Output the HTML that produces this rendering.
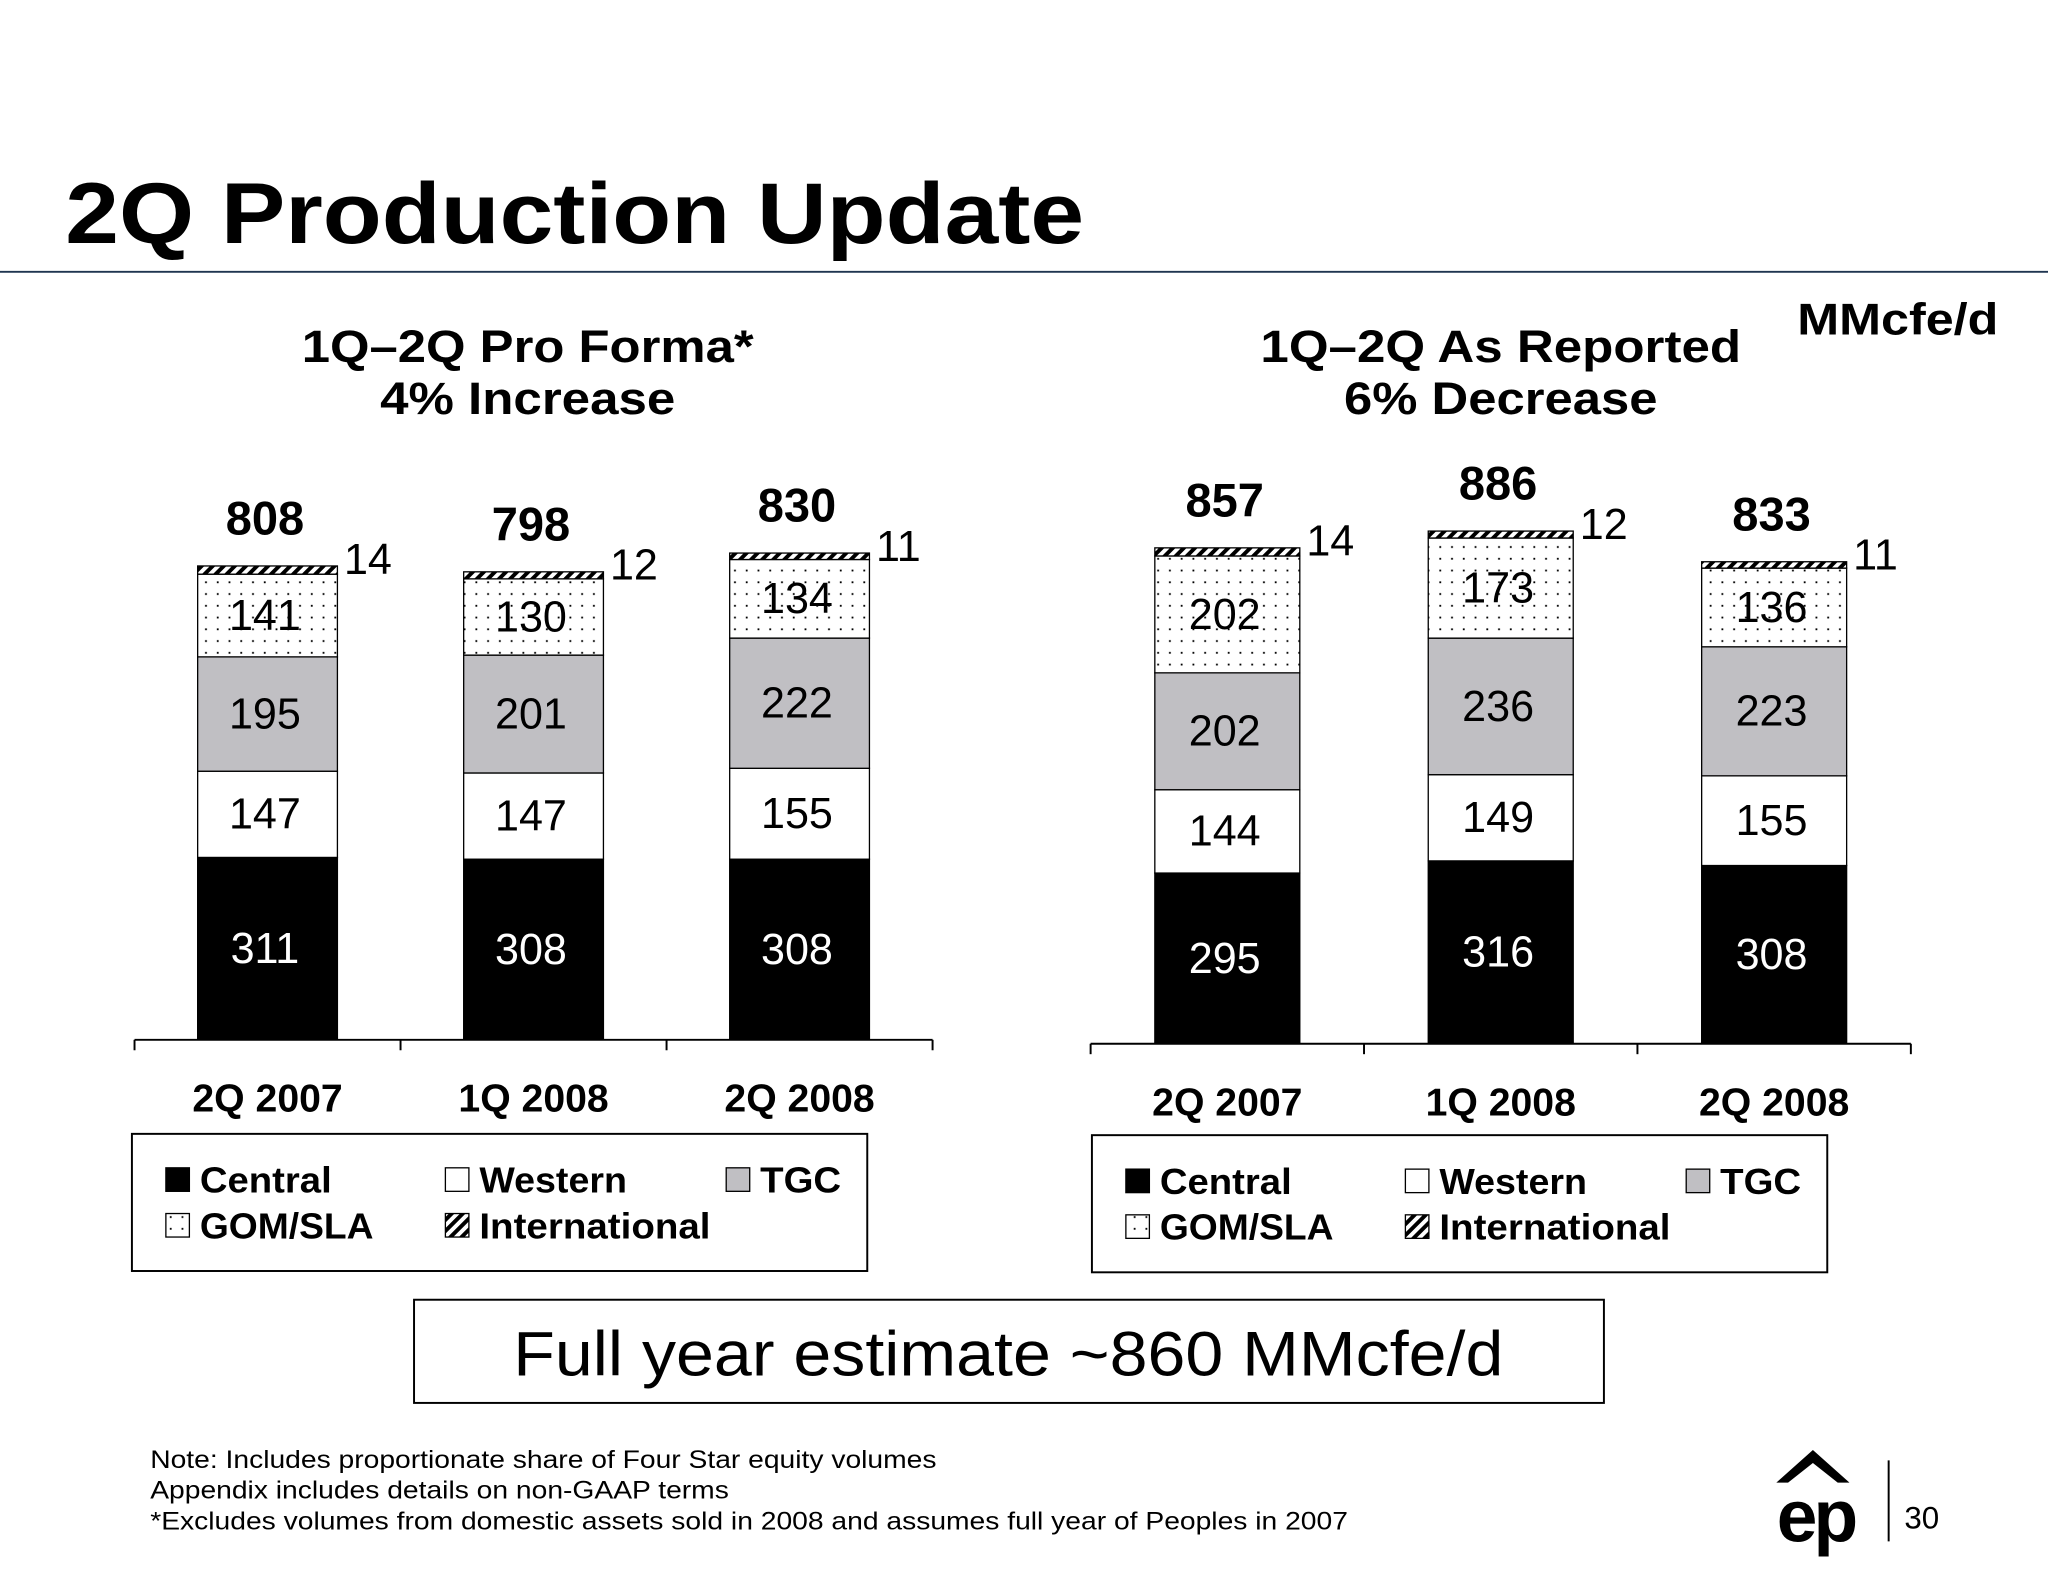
<!DOCTYPE html>
<html><head><meta charset="utf-8"><style>
html,body{margin:0;padding:0;background:#fff}
svg{display:block;font-family:"Liberation Sans",Arial,sans-serif}
</style></head><body>
<svg id="s" width="2048" height="1582" viewBox="0 0 1568 1211" xmlns="http://www.w3.org/2000/svg">
<defs>
<pattern id="dots" width="9" height="9" patternUnits="userSpaceOnUse"><rect width="9" height="9" fill="#fff"/><rect x="4" y="4" width="1.4" height="1.4" fill="#000"/></pattern>
<pattern id="hatch" width="6" height="6" patternUnits="userSpaceOnUse" patternTransform="rotate(45)"><rect width="6" height="6" fill="#fff"/><rect width="3" height="6" fill="#000"/></pattern>
</defs>
<text x="50" y="186" font-size="66" font-weight="bold" textLength="780" lengthAdjust="spacingAndGlyphs">2Q Production Update</text>
<line x1="0" y1="208" x2="1568" y2="208" stroke="#1f3550" stroke-width="1.5"/>
<text x="1376" y="256" font-size="34" font-weight="bold" textLength="154" lengthAdjust="spacingAndGlyphs">MMcfe/d</text>
<text x="231" y="277" font-size="35" font-weight="bold" textLength="346" lengthAdjust="spacingAndGlyphs">1Q–2Q Pro Forma*</text>
<text x="291" y="317" font-size="35" font-weight="bold" textLength="226" lengthAdjust="spacingAndGlyphs">4% Increase</text>
<text x="965" y="277" font-size="35" font-weight="bold" textLength="368" lengthAdjust="spacingAndGlyphs">1Q–2Q As Reported</text>
<text x="1029" y="317" font-size="35" font-weight="bold" textLength="240" lengthAdjust="spacingAndGlyphs">6% Decrease</text>
<g id="charts"></g>
<g id="legends"></g>
<rect x="317" y="995" width="911" height="79" fill="#fff" stroke="#000" stroke-width="1.5"/>
<text x="393" y="1053" font-size="48" textLength="758" lengthAdjust="spacingAndGlyphs">Full year estimate ~860 MMcfe/d</text>
<g font-size="19">
<text x="115" y="1124" textLength="602" lengthAdjust="spacingAndGlyphs">Note: Includes proportionate share of Four Star equity volumes</text>
<text x="115" y="1147" textLength="443" lengthAdjust="spacingAndGlyphs">Appendix includes details on non-GAAP terms</text>
<text x="115" y="1171" textLength="917" lengthAdjust="spacingAndGlyphs">*Excludes volumes from domestic assets sold in 2008 and assumes full year of Peoples in 2007</text>
</g>
<g>
<path d="M1360 1135 L1388 1110 L1416 1135 L1407 1135 L1388 1120 L1369 1135 Z" fill="#000"/>
<text x="1390" y="1180" font-size="56" font-weight="bold" text-anchor="middle" letter-spacing="-3">ep</text>
</g>
<line x1="1446" y1="1118" x2="1446" y2="1180" stroke="#000" stroke-width="1.5"/>
<text x="1458" y="1170" font-size="24">30</text>
</svg>
<script>
const categories = ["2Q 2007","1Q 2008","2Q 2008"];
const segNames = ["Central","Western","TGC","GOM/SLA","International"];
const leftCentral = [311,308,308];
const leftWestern = [147,147,155];
const leftTGC = [195,201,222];
const leftGOM = [141,130,134];
const leftIntl = [14,12,11];
const leftTotals = [808,798,830];
const rightCentral = [295,316,308];
const rightWestern = [144,149,155];
const rightTGC = [202,236,223];
const rightGOM = [202,173,136];
const rightIntl = [14,12,11];
const rightTotals = [857,886,833];

const NS="http://www.w3.org/2000/svg";
const fills=["#000","#fff","#c0bfc3","url(#dots)","url(#hatch)"];
const textFill=["#fff","#000","#000","#000","#000"];
function mk(tag,attrs,parent){const e=document.createElementNS(NS,tag);for(const k in attrs)e.setAttribute(k,attrs[k]);parent.appendChild(e);return e;}
const g=document.getElementById('charts');
function chart(name,series,totals,x0,x1,base,k,barW){
  const ch=mk('g',{},g);
  
  
  const n=categories.length, slot=(x1-x0)/n;
  const y=v=>base-v*k;
  const ax=mk('line',{x1:x0,y1:base,x2:x1,y2:base,stroke:'#000','stroke-width':1.5},ch);
  
  
  for(let i=0;i<=n;i++){const t=mk('line',{x1:x0+i*slot,y1:base,x2:x0+i*slot,y2:base+8,stroke:'#000','stroke-width':1.5},ch);
    
    }
  categories.forEach((c,i)=>{
    const cx=x0+slot*(i+0.5), bx=cx-barW/2;
    let cum=0;
    series.forEach((s,j)=>{
      const v=s[i];
      const r=mk('rect',{x:bx,y:y(cum+v),width:barW,height:v*k,fill:fills[j],stroke:'#000','stroke-width':1},ch);
      
      
      const mid=y(cum+v/2);
      if(j<4){const t=mk('text',{x:cx-2,y:mid+11,'font-size':33,'text-anchor':'middle',fill:textFill[j]},ch);t.textContent=v;
        
        }
      else{const t=mk('text',{x:bx+barW+5,y:y(cum+v)+6,'font-size':33},ch);t.textContent=v;
        
        }
      cum+=v;
    });
    const tt=mk('text',{x:cx-2,y:y(totals[i])-24,'font-size':36,'font-weight':'bold','text-anchor':'middle'},ch);tt.textContent=totals[i];
    
    
    const cl=mk('text',{x:cx,y:base+55,'font-size':30,'font-weight':'bold','text-anchor':'middle'},ch);cl.textContent=c;
    
    
  });
}
chart('left-chart',[leftCentral,leftWestern,leftTGC,leftGOM,leftIntl],leftTotals,103,714,796,0.449,107);
chart('right-chart',[rightCentral,rightWestern,rightTGC,rightGOM,rightIntl],rightTotals,835,1463,799,0.443,111);

const lg=document.getElementById('legends');
const lens=[101,113,62,133,177];
function legend(name,x,y){
  const l=mk('g',{},lg);
  
  
  mk('rect',{x:x,y:y,width:563,height:105,fill:'#fff',stroke:'#000','stroke-width':1.5},l);
  const items=[[0,26,45],[1,240,45],[2,455,45],[3,26,80],[4,240,80]];
  items.forEach(([j,dx,dy])=>{
    const e=mk('g',{},l);
    
    
    mk('rect',{x:x+dx,y:y+dy-19,width:18,height:18,fill:fills[j],stroke:'#000','stroke-width':1},e);
    const t=mk('text',{x:x+dx+26,y:y+dy,'font-size':28,'font-weight':'bold',textLength:lens[j],lengthAdjust:'spacingAndGlyphs'},e);t.textContent=segNames[j];
  });
}
legend('left-legend',101,868);
legend('right-legend',836,869);
</script>
</body></html>
